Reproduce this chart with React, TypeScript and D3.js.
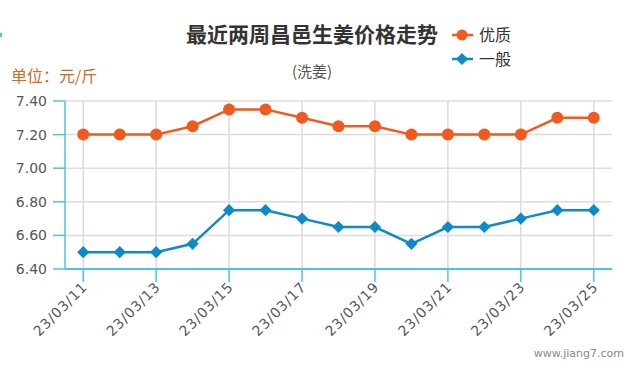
import React from "react";
import * as d3 from "d3";

const dates = ["23/03/11","23/03/12","23/03/13","23/03/14","23/03/15","23/03/16","23/03/17","23/03/18","23/03/19","23/03/20","23/03/21","23/03/22","23/03/23","23/03/24","23/03/25"];
const premium = [7.2,7.2,7.2,7.25,7.35,7.35,7.3,7.25,7.25,7.2,7.2,7.2,7.2,7.3,7.3];
const normal = [6.5,6.5,6.5,6.55,6.75,6.75,6.7,6.65,6.65,6.55,6.65,6.65,6.7,6.75,6.75];
const yTicks = [6.4,6.6,6.8,7.0,7.2,7.4];
const seriesNames = ["优质","一般"];

const W = 635, H = 375;
const L = 65, R = 612, T = 101, B = 269;
const ORANGE = "#f05a1e";
const BLUE = "#0e8ac8";
const AXIS = "#4fc1e9";
const GRID = "#dcdcdc";

export default function App() {
  const x = d3.scalePoint<string>().domain(dates).range([L, R]).padding(0.5);
  const y = d3.scaleLinear().domain([6.4, 7.4]).range([B, T]);
  const line = d3.line<number>().x((_, i) => x(dates[i])!).y(d => y(d));
  const diamond = d3.symbol().type(d3.symbolDiamond2).size(95)()!;
  const labelDates = dates.filter((_, i) => i % 2 === 0);
  return (
    <svg width={W} height={H} style={{ position: "absolute", left: 0, top: 0 }}>
      <rect width={W} height={H} fill="#fff" />
      <rect x={0} y={33} width={2} height={4} fill={AXIS} />
      {/* grid */}
      {yTicks.map(t => (
        <line key={"h" + t} x1={L} x2={R} y1={y(t)} y2={y(t)} stroke={GRID} strokeWidth={1.5} />
      ))}
      {labelDates.map(d => (
        <line key={"v" + d} x1={x(d)} x2={x(d)} y1={T} y2={B} stroke={GRID} strokeWidth={1.5} />
      ))}
      {/* axes */}
      <line x1={L} x2={L} y1={T} y2={B} stroke={AXIS} strokeWidth={1.5} />
      <line x1={L} x2={R} y1={B} y2={B} stroke={AXIS} strokeWidth={2} />
      {yTicks.map(t => (
        <g key={"yt" + t}>
          <line x1={L - 12} x2={L} y1={y(t)} y2={y(t)} stroke={AXIS} strokeWidth={1.5} />
          <text x={47} y={y(t) + 5} textAnchor="end" fontFamily="DejaVu Sans" fontSize={14} fill="#555">{t.toFixed(2)}</text>
        </g>
      ))}
      {labelDates.map(d => (
        <g key={"xt" + d}>
          <line x1={x(d)} x2={x(d)} y1={B} y2={B + 13} stroke={AXIS} strokeWidth={1.5} />
          <text transform={`translate(${x(d)! + 5},${B + 19}) rotate(-45)`} textAnchor="end" fontFamily="DejaVu Sans" fontSize={14} letterSpacing={0.8} fill="#555">{d}</text>
        </g>
      ))}
      {/* series */}
      <path d={line(premium)!} fill="none" stroke={ORANGE} strokeWidth={2.5} />
      {premium.map((v, i) => (
        <circle key={"p" + i} cx={x(dates[i])} cy={y(v)} r={6} fill={ORANGE} />
      ))}
      <path d={line(normal)!} fill="none" stroke={BLUE} strokeWidth={2.5} />
      {normal.map((v, i) => (
        <path key={"n" + i} d={diamond} transform={`translate(${x(dates[i])},${y(v)})`} fill={BLUE} />
      ))}
      {/* titles */}
      <text x={312} y={42} textAnchor="middle" fontFamily="Noto Sans CJK SC" fontWeight="bold" fontSize={21} fill="#333">最近两周昌邑生姜价格走势</text>
      <text x={312} y={77} textAnchor="middle" fontFamily="Noto Sans CJK SC" fontSize={15} fill="#555">(洗姜)</text>
      <text x={11} y={82} fontFamily="Noto Sans CJK SC" fontSize={16} fill="#d2691e">单位：元/斤</text>
      {/* legend */}
      <line x1={452} x2={473} y1={35} y2={35} stroke={ORANGE} strokeWidth={2.5} />
      <circle cx={462} cy={35} r={5.5} fill={ORANGE} />
      <text x={479} y={41} fontFamily="Noto Sans CJK SC" fontSize={16} fill="#333">{seriesNames[0]}</text>
      <line x1={452} x2={473} y1={59} y2={59} stroke={BLUE} strokeWidth={2.5} />
      <path d={diamond} transform="translate(462,59)" fill={BLUE} />
      <text x={479} y={65} fontFamily="Noto Sans CJK SC" fontSize={16} fill="#333">{seriesNames[1]}</text>
      <text x={624} y={357} textAnchor="end" fontFamily="DejaVu Sans" fontSize={11} fill="#888">www.jiang7.com</text>
    </svg>
  );
}
